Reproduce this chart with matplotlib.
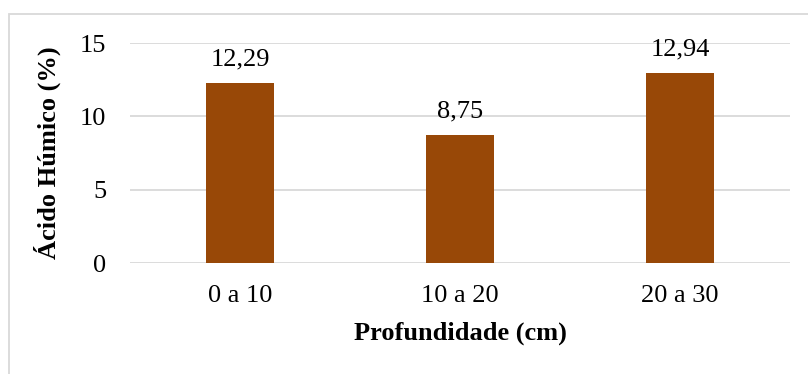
import matplotlib
matplotlib.use("Agg")
import matplotlib.pyplot as plt
from matplotlib.patches import Rectangle

# teor de ácido húmico por camada de solo
profundidades = ["0 a 10", "10 a 20", "20 a 30"]
acido_humico = [12.29, 8.75, 12.94]
rotulos = ["12,29", "8,75", "12,94"]
y_ticks = [0, 5, 10, 15]

plt.rcParams['font.family'] = ['Liberation Serif', 'DejaVu Serif']
fs = 19
cor_barra = '#984807'
cor_grade = '#d9d9d9'

fig = plt.figure(figsize=(8.08, 3.74), dpi=100)
ax = fig.add_axes([130 / 808, 1 - 263 / 374, 660 / 808, 220 / 374])

x = range(len(profundidades))
barras = ax.bar(x, acido_humico, width=0.313, color=cor_barra, zorder=3)
for b, txt in zip(barras, rotulos):
    ax.annotate(txt, (b.get_x() + b.get_width() / 2, b.get_height()),
                xytext=(0, 9), textcoords='offset points',
                ha='center', va='bottom', fontsize=fs)

ax.set_xlim(-0.5, len(profundidades) - 0.5)
ax.set_ylim(0, 15)
ax.set_yticks(y_ticks)
ax.set_yticklabels([str(t) for t in y_ticks], fontsize=fs)
ax.set_xticks(list(x))
ax.set_xticklabels(profundidades, fontsize=fs)
ax.tick_params(axis='both', length=0)
ax.tick_params(axis='y', pad=17)
ax.tick_params(axis='x', pad=16)
ax.grid(axis='y', color=cor_grade, linewidth=1.3, zorder=0)
for s in ax.spines.values():
    s.set_visible(False)

ax.set_xlabel("Profundidade (cm)", fontsize=fs, fontweight='bold', labelpad=10)
ax.set_ylabel("Ácido Húmico (%)", fontsize=fs, fontweight='bold', labelpad=14)

# moldura da área do gráfico
fig.patches.append(Rectangle((9 / 808, -0.1), 1.2, 1 - 14 / 374 + 0.1,
                             transform=fig.transFigure, fill=False,
                             edgecolor=cor_grade, linewidth=1.3))

fig.savefig("out.png", dpi=100)
